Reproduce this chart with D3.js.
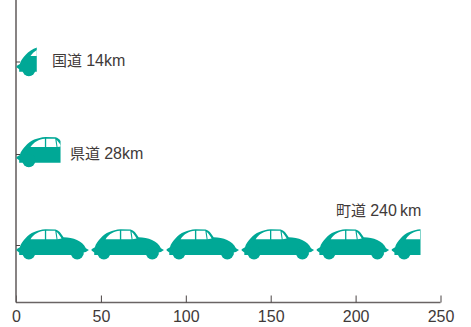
<!DOCTYPE html>
<html><head><meta charset="utf-8">
<script src="https://cdn.jsdelivr.net/npm/d3@7"></script>
<style>html,body{margin:0;background:#fff}svg{display:block}</style></head>
<body><div id="c"></div>
<script>
const roads = ["国道", "県道", "町道"];
const lengths = [14, 28, 240];
const amounts = ["14km", "28km", "240\u2009km"];
const ticks = [0, 50, 100, 150, 200, 250];
const carLengthKm = 44.2;

const W = 471, H = 327;
const x = d3.scaleLinear().domain([0, 250]).range([16, 440.5]);
const y = d3.scaleOrdinal().domain(roads).range([62, 154.5, 245.5]);
const axisY = 302.5;
const ink = "#6a6464", teal = "#00a896", textC = "#3f3a39";

const svg = d3.select("#c").append("svg").attr("width", W).attr("height", H);

const axis = d3.axisBottom(x).tickValues(ticks).tickSize(-7).tickPadding(0).tickFormat(d3.format("d"));
const ga = svg.append("g").attr("transform", `translate(0,${axisY})`).call(axis);
ga.select(".domain").attr("stroke", ink).attr("stroke-width", 1.6).attr("d", `M${x(0)},0H${x(250)}`);
ga.selectAll(".tick line").attr("stroke", "#4a4444").attr("stroke-width", 1);
ga.selectAll(".tick text").attr("y", 8).attr("dy", "0.71em")
  .attr("font-family", "'Liberation Sans',sans-serif").attr("font-size", 16).attr("fill", textC).attr("text-anchor", "middle");

svg.append("line").attr("x1", x(0)).attr("x2", x(0)).attr("y1", 0).attr("y2", axisY)
  .attr("stroke", ink).attr("stroke-width", 1.6);
svg.selectAll(".yt").data(roads).join("line").attr("x1", x(0)).attr("x2", x(0) + 4)
  .attr("y1", d => y(d)).attr("y2", d => y(d)).attr("stroke", "#4a4444");

const carPx = x(carLengthKm) - x(0);
const carUnits = 225;
const bodyPath = "M0,60 L10,54 C12,44 20,34 27,27 C42,10 62,2 87,0 L117,1 C127,3 133,12 141,24 C170,24 197,34 208,57 L217,62 L208,68 L200,70 L200,77 L8,77 L8,70 L0,64 Z";
const windows = [
  "M42,30 C52,14 67,7 85,5 L85,30 Z",
  "M89,5 L116,5 L120,30 L89,30 Z",
  "M120,8 C126,14 131,22 135,28 L123,30 Z"];
const wheels = [[37, 71, 19.5], [182, 71, 19.5]];

const defs = svg.append("defs");
roads.forEach((r, i) => {
  defs.append("clipPath").attr("id", "clip" + i).append("rect")
    .attr("x", x(0) - 2).attr("y", y(r) - 30)
    .attr("width", x(lengths[i]) - 3 - x(0) + 2).attr("height", 60);
});

const topOffset = [16, 17.5, 16.3];
roads.forEach((r, i) => {
  const count = Math.ceil(lengths[i] / carLengthKm);
  const g = svg.append("g").attr("clip-path", `url(#clip${i})`);
  const cars = g.selectAll("g").data(d3.range(count)).join("g")
    .attr("transform", d => `translate(${x(d * carLengthKm) + 0.5},${y(r) - topOffset[i]}) scale(${carPx / carUnits})`);
  cars.append("path").attr("d", bodyPath).attr("fill", teal);
  wheels.forEach(w => cars.append("circle").attr("cx", w[0]).attr("cy", w[1]).attr("r", w[2]).attr("fill", teal));
  windows.forEach(p => cars.append("path").attr("d", p).attr("fill", "#fff"));
});

const labelPos = [[52, 60.5], [70, 153.5], [336, 210.5]];
labelPos.forEach((p, i) => {
  const t = svg.append("text").attr("x", p[0]).attr("y", p[1]).attr("dy", "0.35em")
    .attr("font-family", "'Liberation Sans','Noto Sans CJK JP',sans-serif").attr("font-size", 15)
    .attr("fill", textC);
  t.append("tspan").text(roads[i] + " ");
  t.append("tspan").attr("font-size", 16).text(amounts[i]);
});
</script></body></html>
